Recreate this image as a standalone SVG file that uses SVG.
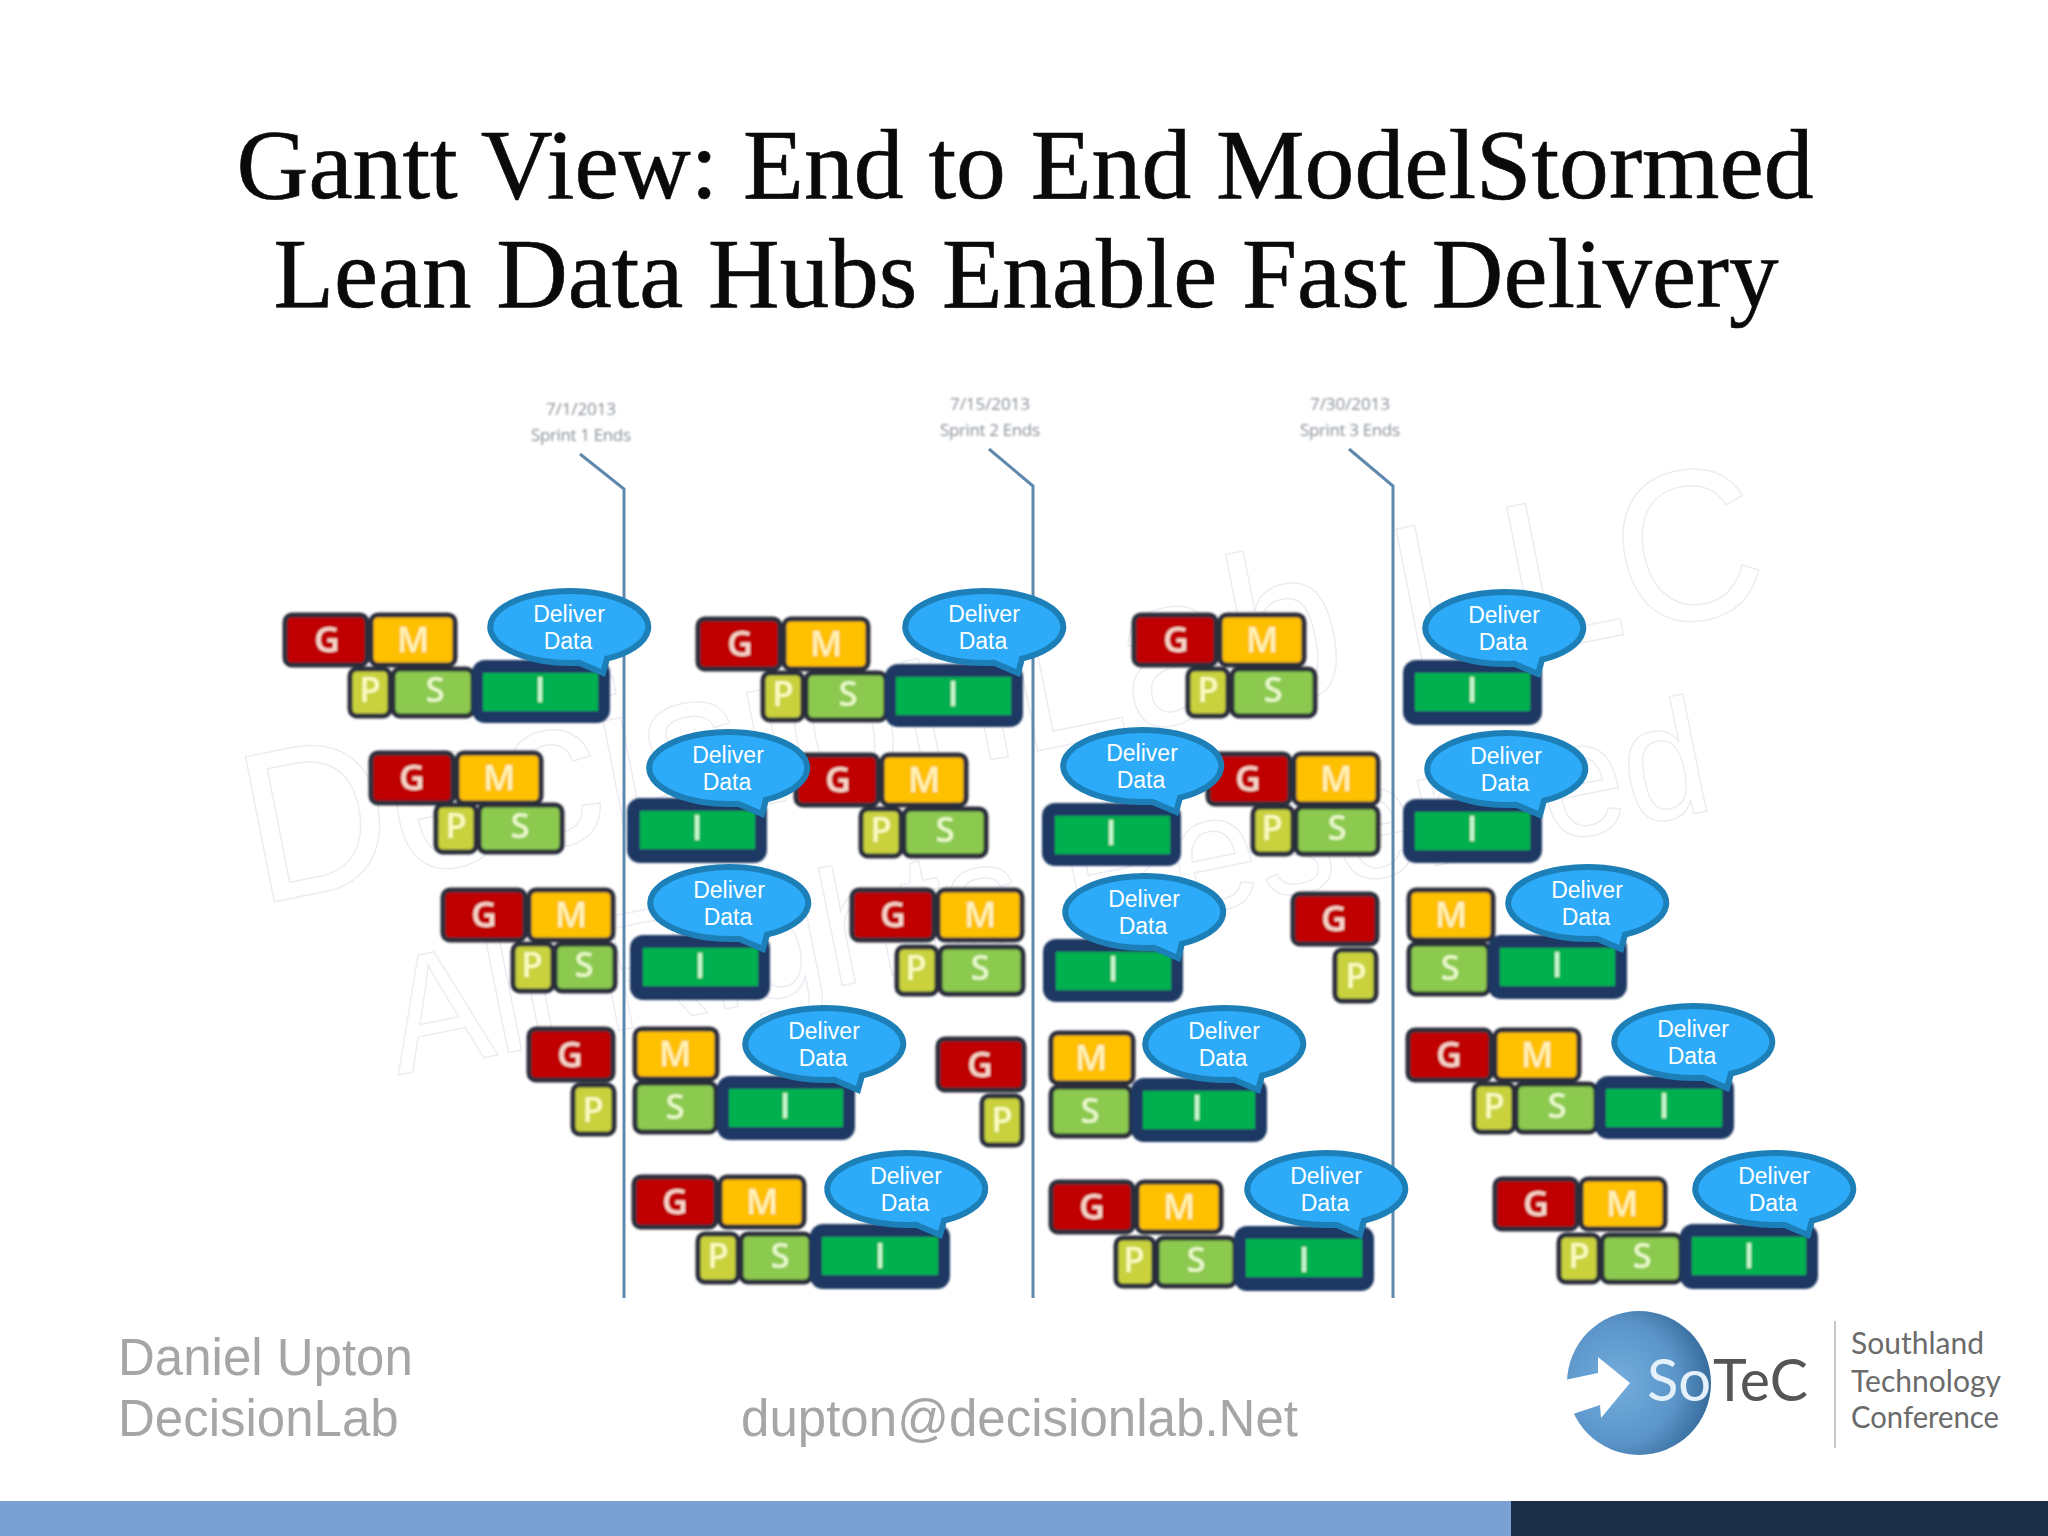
<svg xmlns="http://www.w3.org/2000/svg" width="2048" height="1536" viewBox="0 0 2048 1536">
<style>
.title{font-family:"Liberation Serif",serif;font-size:99px;fill:#0a0a0a;text-anchor:middle;stroke:#0a0a0a;stroke-width:.6}
.foot{font-family:"Liberation Sans",Arial,sans-serif;font-size:51px;fill:#a6a6a6}
.wm{font-family:"Liberation Sans",Arial,sans-serif;fill:none;stroke:#ecedf2;stroke-width:1.5}
.spr{font-family:"Open Sans",sans-serif;font-size:17px;fill:#8a9098;text-anchor:middle}
.b{stroke:#2a2f3a;stroke-width:5}
.bg{fill:#c00000}.bm{fill:#ffc000}.bp{fill:#c9d23e}.bs{fill:#8cc950}
.iout{fill:#1f3864}.iin{fill:#00b04f}
.l{font-family:"Open Sans",sans-serif;font-size:35px;font-weight:600;text-anchor:middle}
.lg{fill:#f8d8cc}.lm{fill:#fff2b8}.lp{fill:#fbfbc0}.ls{fill:#e8f8c8}.li{fill:#c8f8d0}
.bub{fill:#2dabf8;stroke:#1d7fb8;stroke-width:6}
.bt{font-family:"Liberation Sans",Arial,sans-serif;font-size:23px;fill:#fff;text-anchor:middle}
.line{fill:none;stroke:#5f88ad;stroke-width:3}
.lt{font-family:Lato,"Open Sans",sans-serif;font-size:30px;fill:#6b6b6b}
</style>
<defs>
<filter id="soft" x="-2%" y="-2%" width="104%" height="104%"><feGaussianBlur stdDeviation="0.8"/></filter>
<filter id="softer" x="-5%" y="-20%" width="110%" height="140%"><feGaussianBlur stdDeviation="0.9"/></filter>
<radialGradient id="logo" cx="35%" cy="50%" r="70%"><stop offset="0" stop-color="#74aede"/><stop offset="0.6" stop-color="#5b94c8"/><stop offset="1" stop-color="#2f6594"/></radialGradient>
</defs>
<rect width="2048" height="1536" fill="#fff"/>
<g id="title">
<text class="title" x="1025" y="198" textLength="1577" lengthAdjust="spacingAndGlyphs">Gantt View: End to End ModelStormed</text>
<text class="title" x="1026" y="307" textLength="1505" lengthAdjust="spacingAndGlyphs">Lean Data Hubs Enable Fast Delivery</text>
</g>
<g id="watermark">
<text class="wm" font-size="215" transform="translate(258,905) rotate(-11.2)" textLength="1545" lengthAdjust="spacingAndGlyphs">DecisionLab LLC</text>
<text class="wm" font-size="165" transform="translate(398,1075) rotate(-11.4)" textLength="1345" lengthAdjust="spacingAndGlyphs">All Rights Reserved</text>
</g>
<g id="connectors">
<path class="line" d="M580,454L624,489V1298"/>
<path class="line" d="M989,449L1033,486V1298"/>
<path class="line" d="M1349,449L1393,486V1298"/>
</g>
<g id="sprint-labels" filter="url(#softer)">
<text class="spr" x="581" y="415" textLength="70">7/1/2013</text>
<text class="spr" x="581" y="441" textLength="100">Sprint 1 Ends</text>
<text class="spr" x="990" y="410" textLength="80">7/15/2013</text>
<text class="spr" x="990" y="436" textLength="100">Sprint 2 Ends</text>
<text class="spr" x="1350" y="410" textLength="80">7/30/2013</text>
<text class="spr" x="1350" y="436" textLength="100">Sprint 3 Ends</text>
</g>
<g id="tasks" filter="url(#soft)">
<g id="set-1-1">
<rect class="b bg" x="285" y="615" width="82" height="50" rx="7"/><text class="l lg" x="327" y="652">G</text>
<rect class="b bm" x="371" y="615" width="84" height="50" rx="7"/><text class="l lm" x="413" y="652">M</text>
<rect class="b bp" x="350" y="669" width="40" height="47" rx="7"/><text class="l lp" x="370" y="702">P</text>
<rect class="b bs" x="393" y="669" width="80" height="47" rx="7"/><text class="l ls" x="435" y="702">S</text>
<rect class="iout" x="472" y="660" width="138" height="63" rx="13"/><rect class="iin" x="483" y="673" width="115" height="38"/><text class="l li" x="540" y="702">I</text>
</g>
<g id="set-1-2">
<rect class="b bg" x="698" y="619" width="82" height="50" rx="7"/><text class="l lg" x="740" y="656">G</text>
<rect class="b bm" x="784" y="619" width="84" height="50" rx="7"/><text class="l lm" x="826" y="656">M</text>
<rect class="b bp" x="763" y="673" width="40" height="47" rx="7"/><text class="l lp" x="783" y="706">P</text>
<rect class="b bs" x="806" y="673" width="80" height="47" rx="7"/><text class="l ls" x="848" y="706">S</text>
<rect class="iout" x="885" y="664" width="138" height="63" rx="13"/><rect class="iin" x="896" y="677" width="115" height="38"/><text class="l li" x="953" y="706">I</text>
</g>
<g id="set-1-3">
<rect class="b bg" x="1134" y="615" width="82" height="50" rx="7"/><text class="l lg" x="1176" y="652">G</text>
<rect class="b bm" x="1220" y="615" width="84" height="50" rx="7"/><text class="l lm" x="1262" y="652">M</text>
<rect class="b bp" x="1188" y="669" width="40" height="47" rx="7"/><text class="l lp" x="1208" y="702">P</text>
<rect class="b bs" x="1232" y="669" width="83" height="47" rx="7"/><text class="l ls" x="1273" y="702">S</text>
<rect class="iout" x="1403" y="660" width="139" height="65" rx="13"/><rect class="iin" x="1415" y="673" width="115" height="38"/><text class="l li" x="1472" y="702">I</text>
</g>
<g id="set-2-1">
<rect class="b bg" x="371" y="753" width="82" height="50" rx="7"/><text class="l lg" x="412" y="790">G</text>
<rect class="b bm" x="457" y="753" width="84" height="50" rx="7"/><text class="l lm" x="499" y="790">M</text>
<rect class="b bp" x="436" y="805" width="40" height="47" rx="7"/><text class="l lp" x="456" y="838">P</text>
<rect class="b bs" x="479" y="805" width="83" height="47" rx="7"/><text class="l ls" x="520" y="838">S</text>
<rect class="iout" x="627" y="798" width="140" height="65" rx="13"/><rect class="iin" x="640" y="811" width="115" height="38"/><text class="l li" x="697" y="840">I</text>
</g>
<g id="set-2-2">
<rect class="b bg" x="796" y="755" width="82" height="50" rx="7"/><text class="l lg" x="838" y="792">G</text>
<rect class="b bm" x="882" y="755" width="84" height="50" rx="7"/><text class="l lm" x="924" y="792">M</text>
<rect class="b bp" x="861" y="809" width="40" height="47" rx="7"/><text class="l lp" x="881" y="842">P</text>
<rect class="b bs" x="904" y="809" width="82" height="47" rx="7"/><text class="l ls" x="945" y="842">S</text>
<rect class="iout" x="1042" y="803" width="139" height="63" rx="13"/><rect class="iin" x="1055" y="816" width="115" height="38"/><text class="l li" x="1111" y="845">I</text>
</g>
<g id="set-2-3">
<rect class="b bg" x="1208" y="754" width="82" height="50" rx="7"/><text class="l lg" x="1248" y="791">G</text>
<rect class="b bm" x="1294" y="754" width="84" height="50" rx="7"/><text class="l lm" x="1336" y="791">M</text>
<rect class="b bp" x="1253" y="807" width="40" height="47" rx="7"/><text class="l lp" x="1272" y="840">P</text>
<rect class="b bs" x="1296" y="807" width="82" height="47" rx="7"/><text class="l ls" x="1337" y="840">S</text>
<rect class="iout" x="1403" y="799" width="139" height="64" rx="13"/><rect class="iin" x="1415" y="812" width="115" height="38"/><text class="l li" x="1472" y="841">I</text>
</g>
<g id="set-3-1">
<rect class="b bg" x="443" y="890" width="82" height="50" rx="7"/><text class="l lg" x="484" y="927">G</text>
<rect class="b bm" x="529" y="890" width="84" height="50" rx="7"/><text class="l lm" x="571" y="927">M</text>
<rect class="b bp" x="513" y="944" width="40" height="47" rx="7"/><text class="l lp" x="532" y="977">P</text>
<rect class="b bs" x="555" y="944" width="60" height="47" rx="7"/><text class="l ls" x="584" y="977">S</text>
<rect class="iout" x="630" y="935" width="140" height="65" rx="13"/><rect class="iin" x="643" y="948" width="115" height="38"/><text class="l li" x="700" y="978">I</text>
</g>
<g id="set-3-2">
<rect class="b bg" x="852" y="890" width="82" height="50" rx="7"/><text class="l lg" x="893" y="927">G</text>
<rect class="b bm" x="938" y="890" width="84" height="50" rx="7"/><text class="l lm" x="980" y="927">M</text>
<rect class="b bp" x="897" y="947" width="40" height="47" rx="7"/><text class="l lp" x="916" y="980">P</text>
<rect class="b bs" x="940" y="947" width="83" height="47" rx="7"/><text class="l ls" x="980" y="980">S</text>
<rect class="iout" x="1043" y="939" width="140" height="63" rx="13"/><rect class="iin" x="1056" y="952" width="115" height="38"/><text class="l li" x="1113" y="981">I</text>
</g>
<g id="set-3-3">
<rect class="b bg" x="1293" y="894" width="84" height="50" rx="7"/><text class="l lg" x="1334" y="931">G</text>
<rect class="b bp" x="1335" y="950" width="41" height="51" rx="7"/><text class="l lp" x="1356" y="988">P</text>
<rect class="b bm" x="1409" y="890" width="84" height="50" rx="7"/><text class="l lm" x="1451" y="927">M</text>
<rect class="b bs" x="1409" y="944" width="80" height="50" rx="7"/><text class="l ls" x="1450" y="980">S</text>
<rect class="iout" x="1488" y="935" width="139" height="64" rx="13"/><rect class="iin" x="1500" y="948" width="115" height="38"/><text class="l li" x="1557" y="977">I</text>
</g>
<g id="set-4-1">
<rect class="b bg" x="529" y="1029" width="84" height="51" rx="7"/><text class="l lg" x="570" y="1067">G</text>
<rect class="b bp" x="573" y="1085" width="41" height="49" rx="7"/><text class="l lp" x="593" y="1122">P</text>
<rect class="b bm" x="635" y="1029" width="82" height="50" rx="7"/><text class="l lm" x="675" y="1066">M</text>
<rect class="b bs" x="635" y="1083" width="81" height="49" rx="7"/><text class="l ls" x="675" y="1119">S</text>
<rect class="iout" x="717" y="1076" width="138" height="64" rx="13"/><rect class="iin" x="729" y="1089" width="114" height="38"/><text class="l li" x="785" y="1118">I</text>
</g>
<g id="set-4-2">
<rect class="b bg" x="938" y="1039" width="86" height="51" rx="7"/><text class="l lg" x="980" y="1077">G</text>
<rect class="b bp" x="982" y="1096" width="40" height="49" rx="7"/><text class="l lp" x="1002" y="1132">P</text>
<rect class="b bm" x="1051" y="1033" width="82" height="50" rx="7"/><text class="l lm" x="1091" y="1070">M</text>
<rect class="b bs" x="1051" y="1087" width="80" height="49" rx="7"/><text class="l ls" x="1090" y="1123">S</text>
<rect class="iout" x="1131" y="1078" width="136" height="64" rx="13"/><rect class="iin" x="1143" y="1091" width="112" height="38"/><text class="l li" x="1197" y="1120">I</text>
</g>
<g id="set-4-3">
<rect class="b bg" x="1408" y="1030" width="83" height="50" rx="7"/><text class="l lg" x="1449" y="1067">G</text>
<rect class="b bm" x="1495" y="1030" width="84" height="50" rx="7"/><text class="l lm" x="1537" y="1067">M</text>
<rect class="b bp" x="1474" y="1084" width="40" height="48" rx="7"/><text class="l lp" x="1494" y="1118">P</text>
<rect class="b bs" x="1516" y="1084" width="80" height="48" rx="7"/><text class="l ls" x="1557" y="1118">S</text>
<rect class="iout" x="1595" y="1076" width="139" height="63" rx="13"/><rect class="iin" x="1606" y="1089" width="116" height="38"/><text class="l li" x="1664" y="1118">I</text>
</g>
<g id="set-5-1">
<rect class="b bg" x="634" y="1177" width="82" height="50" rx="7"/><text class="l lg" x="675" y="1214">G</text>
<rect class="b bm" x="720" y="1177" width="84" height="50" rx="7"/><text class="l lm" x="762" y="1214">M</text>
<rect class="b bp" x="698" y="1234" width="40" height="48" rx="7"/><text class="l lp" x="718" y="1268">P</text>
<rect class="b bs" x="741" y="1234" width="70" height="48" rx="7"/><text class="l ls" x="780" y="1268">S</text>
<rect class="iout" x="810" y="1224" width="140" height="65" rx="13"/><rect class="iin" x="822" y="1237" width="116" height="38"/><text class="l li" x="880" y="1268">I</text>
</g>
<g id="set-5-2">
<rect class="b bg" x="1051" y="1182" width="82" height="50" rx="7"/><text class="l lg" x="1092" y="1219">G</text>
<rect class="b bm" x="1137" y="1182" width="84" height="50" rx="7"/><text class="l lm" x="1179" y="1219">M</text>
<rect class="b bp" x="1116" y="1238" width="38" height="48" rx="7"/><text class="l lp" x="1134" y="1272">P</text>
<rect class="b bs" x="1157" y="1238" width="78" height="48" rx="7"/><text class="l ls" x="1196" y="1272">S</text>
<rect class="iout" x="1234" y="1226" width="140" height="65" rx="13"/><rect class="iin" x="1246" y="1239" width="116" height="38"/><text class="l li" x="1304" y="1272">I</text>
</g>
<g id="set-5-3">
<rect class="b bg" x="1495" y="1179" width="82" height="50" rx="7"/><text class="l lg" x="1536" y="1216">G</text>
<rect class="b bm" x="1581" y="1179" width="84" height="50" rx="7"/><text class="l lm" x="1622" y="1216">M</text>
<rect class="b bp" x="1559" y="1235" width="40" height="47" rx="7"/><text class="l lp" x="1579" y="1268">P</text>
<rect class="b bs" x="1602" y="1235" width="79" height="47" rx="7"/><text class="l ls" x="1642" y="1268">S</text>
<rect class="iout" x="1680" y="1224" width="138" height="65" rx="13"/><rect class="iin" x="1692" y="1237" width="114" height="38"/><text class="l li" x="1749" y="1268">I</text>
</g>
</g>
<defs><path id="bubble" class="bub" d="M38,31.6A79,36 0 1 0 10,35.7L34,46Z"/></defs>
<g id="bubble-1" transform="translate(569,627)"><use href="#bubble"/><text class="bt" x="0" y="-5">Deliver</text><text class="bt" x="-1" y="22">Data</text></g>
<g id="bubble-2" transform="translate(984,627)"><use href="#bubble"/><text class="bt" x="0" y="-5">Deliver</text><text class="bt" x="-1" y="22">Data</text></g>
<g id="bubble-3" transform="translate(1504,628)"><use href="#bubble"/><text class="bt" x="0" y="-5">Deliver</text><text class="bt" x="-1" y="22">Data</text></g>
<g id="bubble-4" transform="translate(728,768)"><use href="#bubble"/><text class="bt" x="0" y="-5">Deliver</text><text class="bt" x="-1" y="22">Data</text></g>
<g id="bubble-5" transform="translate(1142,766)"><use href="#bubble"/><text class="bt" x="0" y="-5">Deliver</text><text class="bt" x="-1" y="22">Data</text></g>
<g id="bubble-6" transform="translate(1506,769)"><use href="#bubble"/><text class="bt" x="0" y="-5">Deliver</text><text class="bt" x="-1" y="22">Data</text></g>
<g id="bubble-7" transform="translate(729,903)"><use href="#bubble"/><text class="bt" x="0" y="-5">Deliver</text><text class="bt" x="-1" y="22">Data</text></g>
<g id="bubble-8" transform="translate(1144,912)"><use href="#bubble"/><text class="bt" x="0" y="-5">Deliver</text><text class="bt" x="-1" y="22">Data</text></g>
<g id="bubble-9" transform="translate(1587,903)"><use href="#bubble"/><text class="bt" x="0" y="-5">Deliver</text><text class="bt" x="-1" y="22">Data</text></g>
<g id="bubble-10" transform="translate(824,1044)"><use href="#bubble"/><text class="bt" x="0" y="-5">Deliver</text><text class="bt" x="-1" y="22">Data</text></g>
<g id="bubble-11" transform="translate(1224,1044)"><use href="#bubble"/><text class="bt" x="0" y="-5">Deliver</text><text class="bt" x="-1" y="22">Data</text></g>
<g id="bubble-12" transform="translate(1693,1042)"><use href="#bubble"/><text class="bt" x="0" y="-5">Deliver</text><text class="bt" x="-1" y="22">Data</text></g>
<g id="bubble-13" transform="translate(906,1189)"><use href="#bubble"/><text class="bt" x="0" y="-5">Deliver</text><text class="bt" x="-1" y="22">Data</text></g>
<g id="bubble-14" transform="translate(1326,1189)"><use href="#bubble"/><text class="bt" x="0" y="-5">Deliver</text><text class="bt" x="-1" y="22">Data</text></g>
<g id="bubble-15" transform="translate(1774,1189)"><use href="#bubble"/><text class="bt" x="0" y="-5">Deliver</text><text class="bt" x="-1" y="22">Data</text></g>
<g id="footer-text">
<text class="foot" x="118" y="1375">Daniel Upton</text>
<text class="foot" x="118" y="1436">DecisionLab</text>
<text class="foot" x="741" y="1436" textLength="557">dupton@decisionlab.Net</text>
</g>
<g id="logo-mark">
<circle cx="1639" cy="1383" r="72" fill="url(#logo)"/>
<polygon points="1630,1383 1598,1357 1598,1373 1560,1381 1570,1415 1600,1405 1601,1418" fill="#fff"/>
<text x="1647" y="1401" font-family="Lato,'Open Sans',sans-serif" font-size="58" fill="#e4f0fa">So</text>
<text x="1713" y="1401" font-family="Lato,'Open Sans',sans-serif" font-size="58" fill="#555" textLength="95" lengthAdjust="spacingAndGlyphs">TeC</text>
<rect x="1834" y="1321" width="2" height="127" fill="#c8c8c8"/>
<text class="lt" x="1851" y="1354" textLength="133" lengthAdjust="spacingAndGlyphs">Southland</text>
<text class="lt" x="1851" y="1392" textLength="150" lengthAdjust="spacingAndGlyphs">Technology</text>
<text class="lt" x="1851" y="1428" textLength="148" lengthAdjust="spacingAndGlyphs">Conference</text>
</g>
<g id="footer-bar">
<rect x="0" y="1501" width="1511" height="35" fill="#7ba0d4"/>
<rect x="1511" y="1501" width="537" height="35" fill="#1c2e45"/>
</g>
</svg>
